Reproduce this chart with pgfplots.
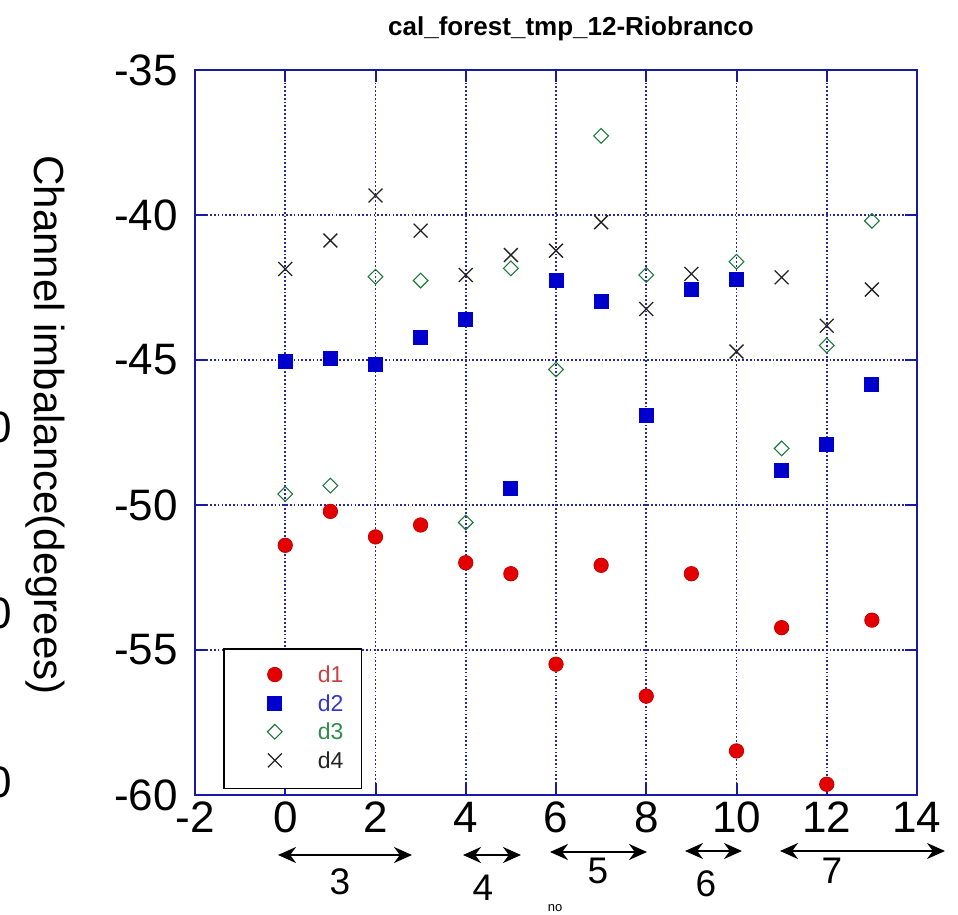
\documentclass[border=0pt]{standalone}
\usepackage{fontspec}
\setmainfont{Liberation Sans}
\usepackage{pgfplots}
\pgfplotsset{compat=1.18}
\usetikzlibrary{arrows.meta}

\definecolor{framecol}{RGB}{25,25,165}
\definecolor{gridcol}{RGB}{40,40,150}
\definecolor{dOne}{RGB}{228,0,0}
\definecolor{dTwo}{RGB}{0,0,205}
\definecolor{dThree}{RGB}{30,120,60}
\definecolor{dFour}{RGB}{35,35,35}
\definecolor{tOne}{RGB}{205,65,65}
\definecolor{tTwo}{RGB}{55,55,200}
\definecolor{tThree}{RGB}{50,140,75}
\definecolor{tFour}{RGB}{35,35,35}

\pgfplotstableread{
x y
0 -51.39
1 -50.22
2 -51.10
3 -50.69
4 -51.99
5 -52.37
6 -55.49
7 -52.08
8 -56.59
9 -52.37
10 -58.48
11 -54.23
12 -59.63
13 -53.97
}\dOneTab

\pgfplotstableread{
x y
0 -45.06
1 -44.93
2 -45.14
3 -44.22
4 -43.59
5 -49.43
6 -42.26
7 -42.98
8 -46.92
9 -42.55
10 -42.21
11 -48.79
12 -47.90
13 -45.83
}\dTwoTab

\pgfplotstableread{
x y
0 -49.62
1 -49.33
2 -42.13
3 -42.26
4 -50.60
5 -41.84
6 -45.33
7 -37.27
8 -42.07
10 -41.61
11 -48.05
12 -44.50
13 -40.20
}\dThreeTab

\pgfplotstableread{
x y
0 -41.86
1 -40.88
2 -39.33
3 -40.54
4 -42.07
5 -41.38
6 -41.23
7 -40.25
8 -43.24
9 -42.03
10 -44.71
11 -42.15
12 -43.82
13 -42.57
}\dFourTab

\begin{document}
\begin{tikzpicture}
\useasboundingbox (-97.5pt,-60pt) rectangle (381.5pt,397.5pt);
\begin{axis}[
  scale only axis,
  width=361pt, height=362.5pt,
  xmin=-2, xmax=14, ymin=-60, ymax=-35,
  xtick={-2,0,...,14}, ytick={-60,-55,...,-35},
  tick align=inside, major tick length=6pt,
  axis line style={framecol, line width=1pt},
  tick style={framecol, line width=1pt, solid},
  grid=major,
  major grid style={gridcol, line width=0.85pt, dash pattern=on 0.85pt off 1.05pt},
  tick label style={font=\fontsize{22}{26}\selectfont},
  /pgf/number format/assume math mode=true,
  yticklabel style={xshift=-5pt},
  clip=false,
  legend image code/.code={%
    \path[draw=none, fill=none] (0pt,-4.5pt) rectangle (30pt,4.5pt);
    \draw[#1] plot coordinates {(16.5pt,0.6pt)};},
  legend style={at={(axis description cs:0.0388,0.2028)}, anchor=north west,
    draw=black, line width=0.8pt, fill=white,
    font=\fontsize{11.5}{13}\selectfont,
    inner xsep=9pt, inner ysep=9pt, row sep=5.3pt,
    nodes={inner sep=0pt, text height=8pt, text depth=1pt},
    /tikz/every odd column/.append style={column sep=8pt}},
  legend cell align=left,
]
\addplot[only marks, mark=*, mark size=3.6pt,
  mark options={fill=dOne, draw=dOne!85!black, line width=0.4pt}] table {\dOneTab};
\addlegendentry{\textcolor{tOne}{d1}}
\addplot[only marks, mark=square*, mark size=3.5pt,
  mark options={fill=dTwo, draw=dTwo, line width=0.4pt}] table {\dTwoTab};
\addlegendentry{\textcolor{tTwo}{d2}}
\addplot[only marks, mark=square, mark size=2.6pt,
  mark options={rotate=45, draw=dThree, fill=none, line width=0.55pt}] table {\dThreeTab};
\addlegendentry{\textcolor{tThree}{d3}}
\addplot[only marks, mark=x, mark size=4.9pt,
  mark options={draw=dFour, line width=0.65pt}] table {\dFourTab};
\addlegendentry{\textcolor{tFour}{d4}}
\end{axis}

% title and axis label
\node[font=\bfseries\fontsize{13}{15}\selectfont] at (188pt,383pt) {cal\_forest\_tmp\_12-Riobranco};
\node[rotate=-90, font=\fontsize{21}{25}\selectfont] at (-75pt,185pt) {Channel imbalance(degrees)};

% tick labels of the neighbouring panel, cut at the edge
\foreach \yy in {184,91,6.5}
  \node[font=\fontsize{22}{26}\selectfont] at (-97.5pt,\yy pt) {0};

% group spans under the x axis
\begin{scope}[line width=1pt, {Stealth[length=9pt,width=8pt]}-{Stealth[length=9pt,width=8pt]}]
  \draw (41.5pt,-30pt) -- (108.5pt,-30pt);
  \draw (134pt,-30pt) -- (163pt,-30pt);
  \draw (177.5pt,-28.5pt) -- (226pt,-28.5pt);
  \draw (245pt,-28pt) -- (273.5pt,-28pt);
  \draw (292.5pt,-28pt) -- (375pt,-28pt);
\end{scope}
\begin{scope}[every node/.style={font=\fontsize{18.5}{22}\selectfont}]
  \node at (72.5pt,-43.5pt) {3};
  \node at (144pt,-46.5pt) {4};
  \node at (201.5pt,-38pt) {5};
  \node at (255.5pt,-44.5pt) {6};
  \node at (318.5pt,-38pt) {7};
\end{scope}
\node[font=\fontsize{6.5}{8}\selectfont] at (180pt,-56.5pt) {no};
\end{tikzpicture}
\end{document}
